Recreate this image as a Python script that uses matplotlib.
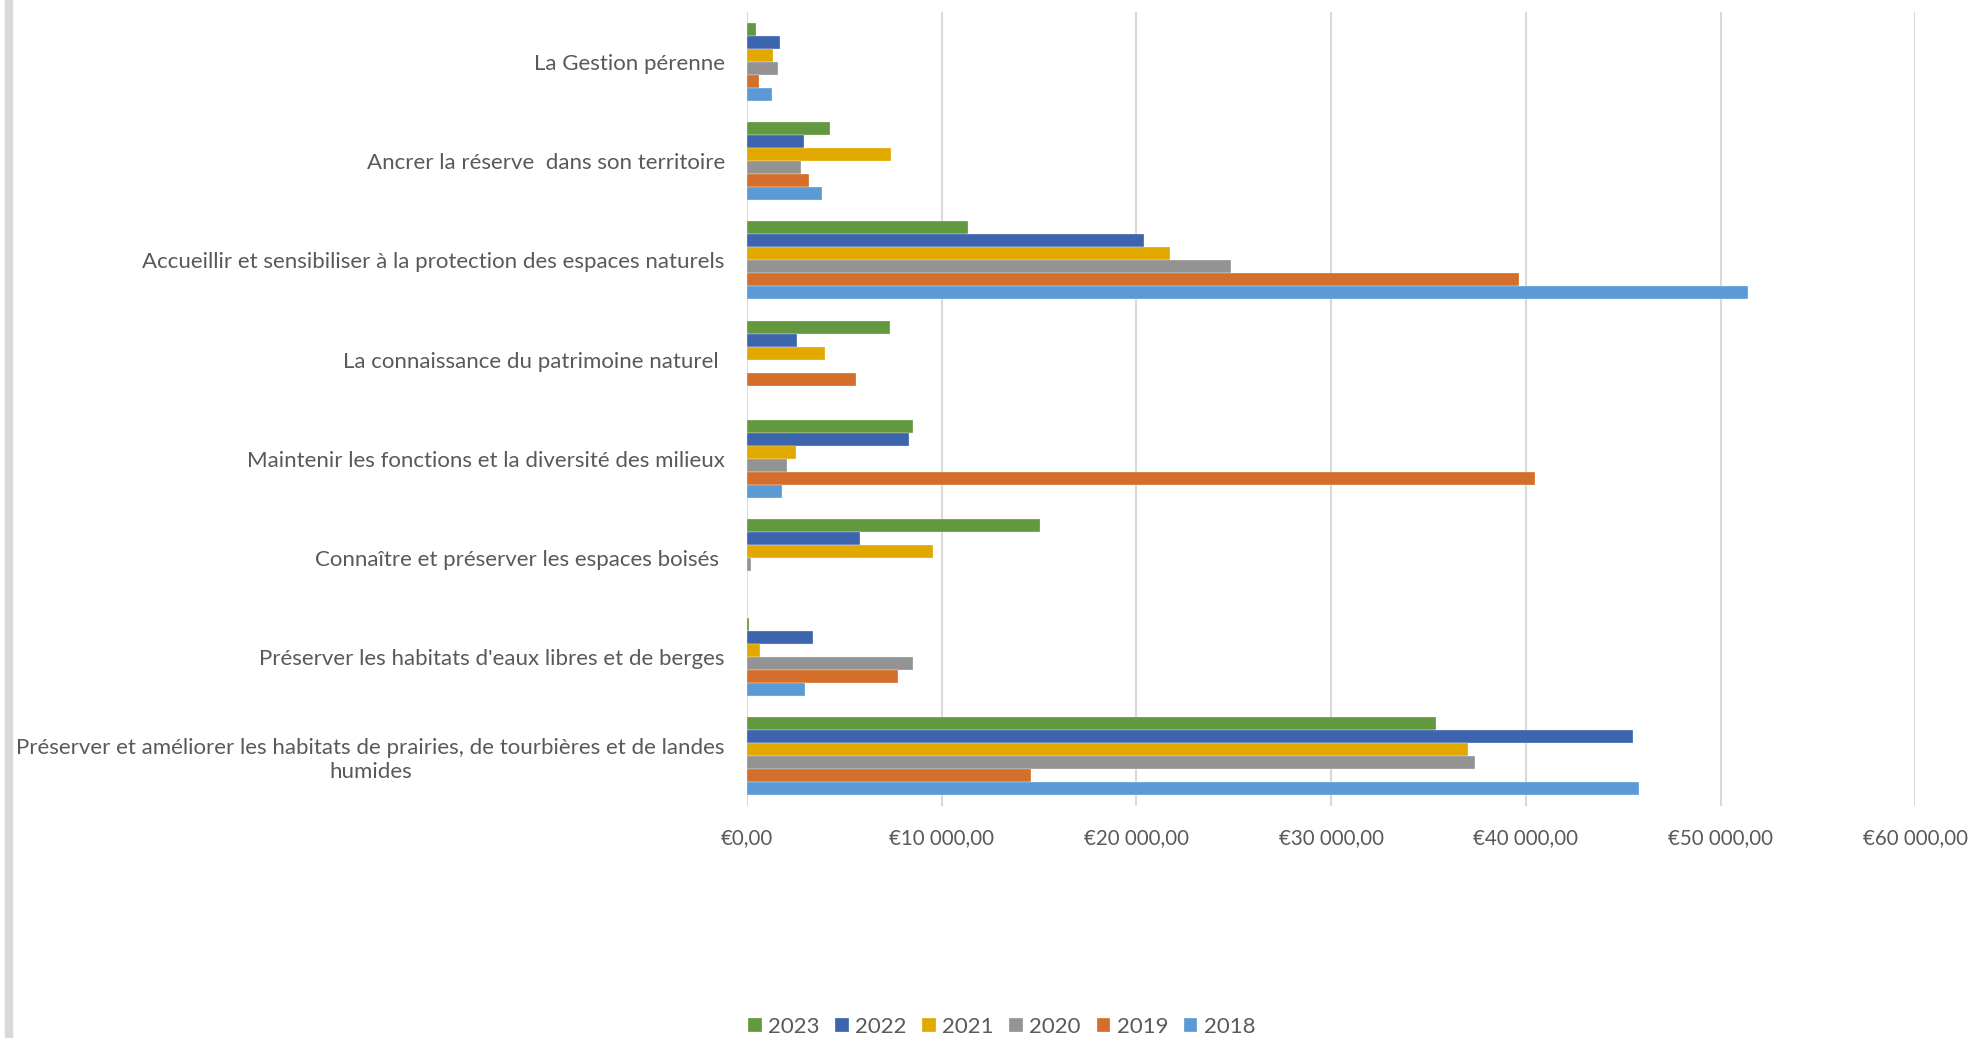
import numpy as np
import matplotlib.pyplot as plt
from matplotlib.patches import Rectangle

categories = [
    "La Gestion pérenne",
    "Ancrer la réserve  dans son territoire",
    "Accueillir et sensibiliser à la protection des espaces naturels",
    "La connaissance du patrimoine naturel ",
    "Maintenir les fonctions et la diversité des milieux",
    "Connaître et préserver les espaces boisés ",
    "Préserver les habitats d'eaux libres et de berges",
    "Préserver et améliorer les habitats de prairies, de tourbières et de landes\nhumides",
]
years = ["2023", "2022", "2021", "2020", "2019", "2018"]

v2023 = [460, 4280, 11370, 7360, 8510, 15050, 110, 35400]
v2022 = [1700, 2930, 20410, 2550, 8340, 5810, 3370, 45480]
v2021 = [1350, 7400, 21700, 4010, 2520, 9550, 690, 37020]
v2020 = [1610, 2770, 24870, 0, 2050, 220, 8520, 37400]
v2019 = [600, 3200, 39660, 5600, 40440, 0, 7770, 14600]
v2018 = [1270, 3850, 51420, 0, 1820, 0, 2960, 45800]

colors = ["#62983E", "#3D65AD", "#E1A900", "#939393", "#D46F2B", "#5B9BD5"]
series = [v2023, v2022, v2021, v2020, v2019, v2018]

txt = "#595959"
plt.rcParams['font.family'] = ['Lato', 'DejaVu Sans']

fig = plt.figure(figsize=(19.72, 10.38), dpi=100)
ax = fig.add_axes([0.3788, 0.2235, 0.5925, 0.7645])

# grey strip at the left edge
fig.patches.append(Rectangle((5 / 1972, 0), 7 / 1972, 1, transform=fig.transFigure,
                             color="#d9d9d9", zorder=0))

pos = np.arange(len(categories))
h = 0.131
for i, (vals, col, yr) in enumerate(zip(series, colors, years)):
    off = (i - 2.5) * h
    ax.barh(pos + off, vals, height=h, color=col, label=yr,
            edgecolor="white", linewidth=0.2, zorder=3)

ax.set_xlim(0, 60000)
ax.set_ylim(len(categories) - 0.5, -0.5)
ax.set_yticks(pos)
ax.set_yticklabels(categories, ha='right', multialignment='center')
ticks = np.arange(0, 60001, 10000)
ax.set_xticks(ticks)
ax.set_xticklabels(["€0,00" if t == 0 else "€{:,}".format(t).replace(",", " ") + ",00" for t in ticks])
ax.tick_params(axis='y', length=0, pad=16, labelsize=16, labelcolor=txt)
ax.tick_params(axis='x', length=0, pad=16, labelsize=14.8, labelcolor=txt)
ax.grid(axis='x', color="#d9d9d9", linewidth=1.5, zorder=0)
for s in ax.spines.values():
    s.set_visible(False)

fig.legend(loc='center', bbox_to_anchor=(0.508, 0.011), ncol=6, frameon=False,
           fontsize=16, labelcolor=txt, handlelength=0.6, handleheight=0.6,
           handletextpad=0.3, columnspacing=0.7, borderaxespad=0)

fig.savefig("out.png", dpi=100)
